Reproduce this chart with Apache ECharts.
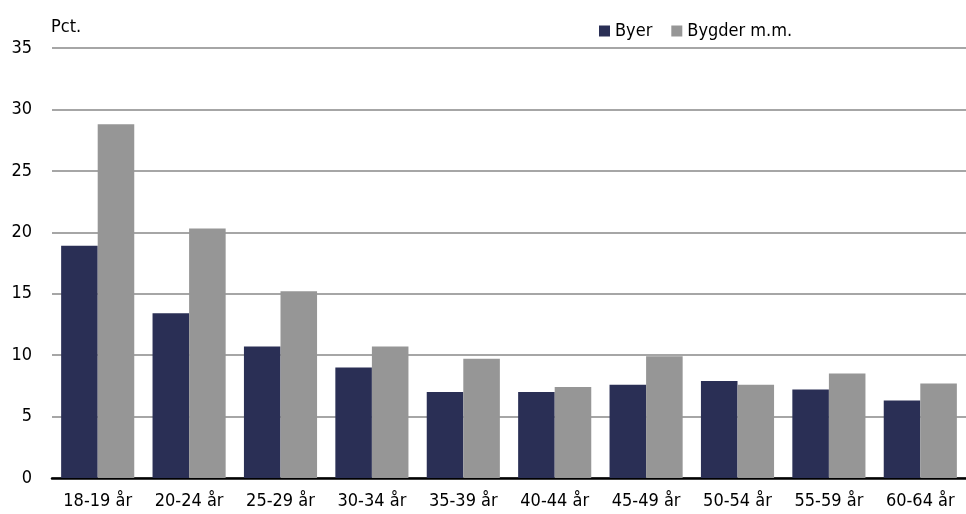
<!DOCTYPE html>
<html>
<head>
<meta charset="utf-8">
<script src="https://cdn.jsdelivr.net/npm/echarts@6/dist/echarts.min.js"></script>
<style>html,body{margin:0;padding:0;background:#fff}#c{width:966px;height:514px}</style>
</head>
<body>
<div id="c"></div>
<script>
const categories = ['18-19 år','20-24 år','25-29 år','30-34 år','35-39 år','40-44 år','45-49 år','50-54 år','55-59 år','60-64 år'];
const byer = [18.9, 13.4, 10.7, 9.0, 7.0, 7.0, 7.6, 7.9, 7.2, 6.3];
const bygder = [28.8, 20.3, 15.2, 10.7, 9.7, 7.4, 9.9, 7.6, 8.5, 7.7];
const seriesNames = ['Byer', 'Bygder m.m.'];
const yTicks = {min: 0, max: 35, interval: 5};

const FONT = '"Liberation Sans Narrow", "DejaVu Sans Condensed", "Roboto", sans-serif';
const chart = echarts.init(document.getElementById('c'));
chart.setOption({
  animation: false,
  textStyle: {fontFamily: FONT},
  grid: {left: 52, right: 0, top: 48, bottom: 36, containLabel: false},
  legend: {
    top: 17, left: 594, itemWidth: 11, itemHeight: 11, itemGap: 19,
    icon: 'rect',
    textStyle: {fontFamily: FONT, fontSize: 18, color: '#000'},
    data: seriesNames
  },
  graphic: [{type: 'text', left: 51, top: 18, style: {text: 'Pct.', font: '18px ' + FONT, fill: '#000'}}],
  xAxis: {
    type: 'category', data: categories,
    axisLine: {lineStyle: {color: '#000', width: 2.5}},
    axisTick: {show: false},
    axisLabel: {color: '#000', fontSize: 18, margin: 14, fontFamily: FONT, interval: 0}
  },
  yAxis: {
    type: 'value', min: yTicks.min, max: yTicks.max, interval: yTicks.interval,
    axisLine: {show: false}, axisTick: {show: false},
    axisLabel: {color: '#000', fontSize: 18, margin: 20, fontFamily: FONT},
    splitLine: {lineStyle: {color: '#a6a6a6', width: 2}}
  },
  series: [
    {name: seriesNames[0], type: 'bar', data: byer, barGap: '0%', barCategoryGap: '20%',
     itemStyle: {color: '#2a2f55'}},
    {name: seriesNames[1], type: 'bar', data: bygder,
     itemStyle: {color: '#969696'}}
  ]
});
</script>
</body>
</html>
